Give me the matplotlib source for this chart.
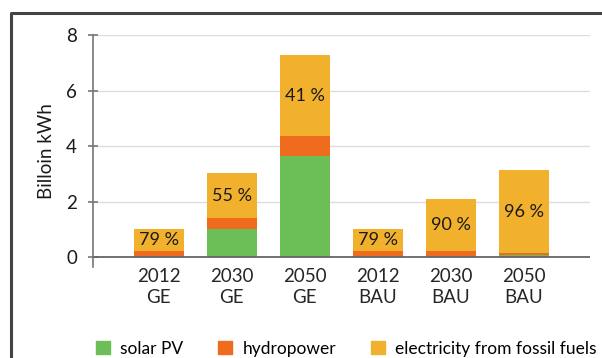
import matplotlib
matplotlib.use("Agg")
import matplotlib.pyplot as plt
from matplotlib.lines import Line2D
from matplotlib.patches import Patch
import numpy as np

plt.rcParams['font.family'] = ['Lato', 'DejaVu Sans']

categories = ["2012\nGE", "2030\nGE", "2050\nGE", "2012\nBAU", "2030\nBAU", "2050\nBAU"]
solar_pv = [0.01, 1.02, 3.65, 0.01, 0.04, 0.07]
hydropower = [0.20, 0.38, 0.70, 0.20, 0.17, 0.06]
fossil = [0.81, 1.63, 2.93, 0.81, 1.87, 3.00]
fossil_share = ["79 %", "55 %", "41 %", "79 %", "90 %", "96 %"]

c_solar = "#6cbf56"
c_hydro = "#ef6b1e"
c_fossil = "#f1b12d"

fig = plt.figure(figsize=(6.02, 3.58), dpi=100)
ax = fig.add_axes([0.1545, 0.255, 0.825, 0.647])

x = np.arange(len(categories))
w = 0.68
solar = np.array(solar_pv)
hydro = np.array(hydropower)
foss = np.array(fossil)

ax.bar(x, solar, w, color=c_solar, zorder=3)
ax.bar(x, hydro, w, bottom=solar, color=c_hydro, zorder=3)
ax.bar(x, foss, w, bottom=solar + hydro, color=c_fossil, zorder=3)

for xi, base, h, lab in zip(x, solar + hydro, foss, fossil_share):
    ax.text(xi, base + h / 2, lab, ha="center", va="center", fontsize=13,
            color="#1a1a1a", zorder=4)

ax.set_xlim(-0.9, 5.9)
ax.set_ylim(-0.35, 8)
ax.set_yticks([0, 2, 4, 6, 8])
ax.set_xticks(x)
ax.set_xticklabels(categories, fontsize=13.5, color="#262626", linespacing=1.3)
ax.tick_params(axis="x", length=0, pad=1)
ax.tick_params(axis="y", direction="inout", length=7, width=1.2, color="#777777",
               labelsize=13.5, labelcolor="#1a1a1a", pad=8)

for s in ["top", "right", "bottom"]:
    ax.spines[s].set_visible(False)
ax.spines["left"].set_color("#777777")
ax.spines["left"].set_linewidth(1.2)

for g in [2, 4, 6, 8]:
    ax.axhline(g, color="#dddddd", linewidth=1, zorder=1)
ax.axhline(0, color="#666666", linewidth=1.3, zorder=5)

ax.set_ylabel("Billoin kWh", fontsize=13.5, color="#1a1a1a", labelpad=8)

# frame around the figure (left and top edges only visible)
fx = 11 / 602
fy = 1 - 13 / 358
fig.add_artist(Line2D([fx, fx, 1.0], [0.0, fy, fy], transform=fig.transFigure,
                      color="#444444", linewidth=2.2))

handles = [Patch(color=c_solar, label="solar PV"),
           Patch(color=c_hydro, label="hydropower"),
           Patch(color=c_fossil, label="electricity from fossil fuels")]
fig.legend(handles=handles, loc="center", bbox_to_anchor=(0.575, 0.026), ncol=3,
           frameon=False, fontsize=12.5, handlelength=0.8, handleheight=0.8,
           handletextpad=0.6, columnspacing=2.0)

fig.savefig("out.png", dpi=100)
